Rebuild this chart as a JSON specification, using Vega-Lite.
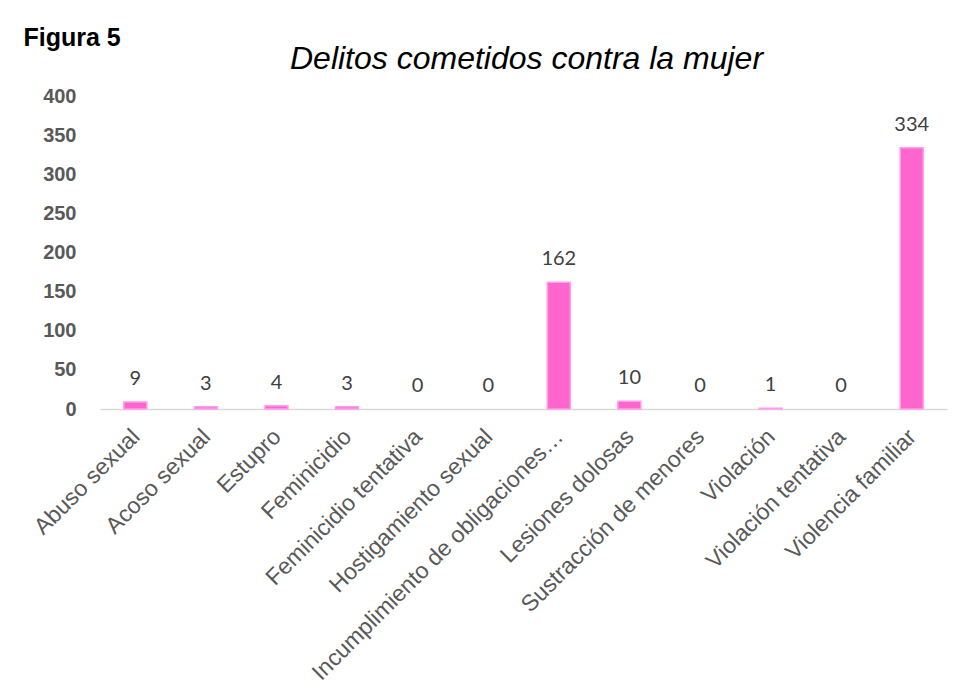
{
  "$schema": "https://vega.github.io/schema/vega-lite/v6.json",
  "autosize": {"type": "none"},
  "width": 847,
  "height": 313,
  "padding": {"left": 100, "top": 96, "right": 18, "bottom": 286},
  "background": "white",
  "config": {"view": {"stroke": null}, "font": "Liberation Sans"},
  "title": {
    "text": "Delitos cometidos contra la mujer",
    "font": "Liberation Sans",
    "fontStyle": "italic",
    "fontWeight": "normal",
    "fontSize": 32,
    "color": "#000000",
    "anchor": "middle",
    "frame": "group",
    "offset": 8,
    "dx": 3,
    "dy": 59
  },
  "data": {
    "values": [
      {"delito": "Abuso sexual", "casos": 9},
      {"delito": "Acoso sexual", "casos": 3},
      {"delito": "Estupro", "casos": 4},
      {"delito": "Feminicidio", "casos": 3},
      {"delito": "Feminicidio tentativa", "casos": 0},
      {"delito": "Hostigamiento sexual", "casos": 0},
      {"delito": "Incumplimiento de obligaciones alimentarias", "casos": 162},
      {"delito": "Lesiones dolosas", "casos": 10},
      {"delito": "Sustracción de menores", "casos": 0},
      {"delito": "Violación", "casos": 1},
      {"delito": "Violación tentativa", "casos": 0},
      {"delito": "Violencia familiar", "casos": 334}
    ]
  },
  "encoding": {
    "x": {
      "field": "delito",
      "type": "nominal",
      "sort": null,
      "scale": {"paddingInner": 0.674, "paddingOuter": 0.337},
      "axis": {
        "title": null,
        "labelAngle": -45,
        "labelFont": "Liberation Sans",
        "labelFontSize": 23,
        "labelColor": "#595959",
        "labelLimit": 345,
        "labelPadding": 16,
        "labelOffset": -7,
        "ticks": false,
        "domainColor": "#d9d9d9",
        "domainWidth": 1.5,
        "grid": false
      }
    },
    "y": {
      "field": "casos",
      "type": "quantitative",
      "scale": {"domain": [0, 400], "nice": false},
      "axis": {
        "title": "Figura 5",
        "titleAngle": 0,
        "titleX": -77,
        "titleY": -51,
        "titleAlign": "left",
        "titleBaseline": "alphabetic",
        "titleFont": "Liberation Sans",
        "titleFontSize": 25,
        "titleFontWeight": "bold",
        "titleColor": "#000000",
        "values": [0, 50, 100, 150, 200, 250, 300, 350, 400],
        "labelFont": "Liberation Sans",
        "labelFontSize": 20,
        "labelFontWeight": "bold",
        "labelColor": "#595959",
        "labelPadding": 24,
        "ticks": false,
        "domain": false,
        "grid": false
      }
    }
  },
  "layer": [
    {
      "mark": {"type": "bar", "color": "#FF66CC", "stroke": "#FF9CF5", "strokeWidth": 1.5},
      "encoding": {
        "strokeOpacity": {"condition": {"test": "datum.casos > 0", "value": 1}, "value": 0}
      }
    },
    {
      "mark": {"type": "text", "baseline": "alphabetic", "dy": -17, "font": "Lato", "fontSize": 20, "color": "#404040"},
      "encoding": {"text": {"field": "casos", "type": "quantitative"}}
    }
  ]
}
